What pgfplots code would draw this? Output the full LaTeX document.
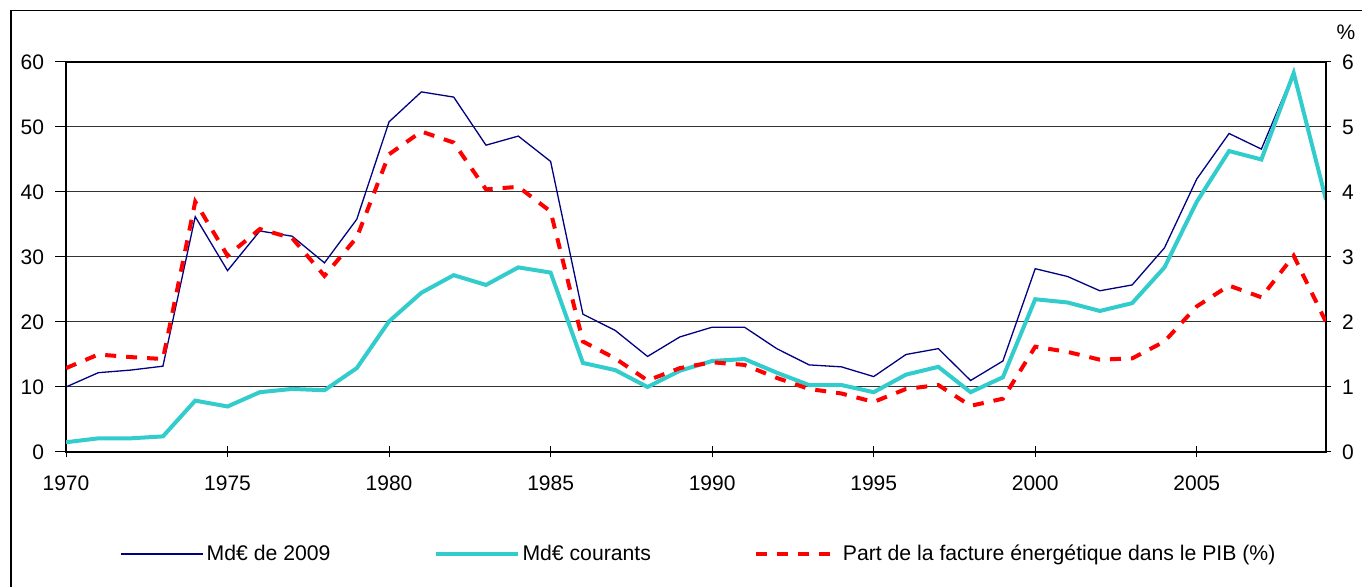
\documentclass[border=0pt]{standalone}
\usepackage{pgfplots}
\pgfplotsset{compat=1.18}
\usepackage{pgfplotstable}
\usepackage{fontspec}
\setmainfont{Liberation Sans}
\definecolor{navyb}{RGB}{0,0,128}
\definecolor{turq}{RGB}{51,204,204}
\pgfplotstableread{
year reel courant part
1970 10.0 1.5 1.29
1971 12.2 2.1 1.50
1972 12.6 2.1 1.46
1973 13.2 2.4 1.43
1974 36.2 7.9 3.85
1975 27.9 7.0 3.02
1976 34.0 9.2 3.43
1977 33.2 9.7 3.29
1978 29.1 9.5 2.71
1979 35.8 12.9 3.30
1980 50.8 20.1 4.58
1981 55.4 24.5 4.93
1982 54.6 27.2 4.76
1983 47.2 25.7 4.04
1984 48.6 28.4 4.08
1985 44.7 27.6 3.70
1986 21.2 13.7 1.70
1987 18.7 12.6 1.44
1988 14.7 10.0 1.10
1989 17.7 12.5 1.29
1990 19.2 14.0 1.38
1991 19.2 14.3 1.34
1992 15.9 12.2 1.14
1993 13.4 10.3 0.97
1994 13.1 10.3 0.90
1995 11.6 9.2 0.77
1996 15.0 11.9 0.97
1997 15.9 13.1 1.03
1998 11.0 9.2 0.71
1999 14.0 11.5 0.82
2000 28.2 23.5 1.62
2001 27.0 23.0 1.54
2002 24.8 21.7 1.42
2003 25.7 22.9 1.44
2004 31.4 28.4 1.70
2005 42.0 38.5 2.24
2006 49.0 46.3 2.56
2007 46.6 45.0 2.38
2008 58.4 58.3 3.02
2009 38.8 38.8 2.00
}\data
\begin{document}
\begin{tikzpicture}[font=\fontsize{10.5}{12.6}\selectfont]
\useasboundingbox (0,0) rectangle (681pt,293.5pt);
\draw[line width=0.65pt] (5.5pt,-1pt) -- (5.5pt,288.25pt) -- (682pt,288.25pt);
\begin{axis}[
  at={(33pt,67.5pt)}, anchor=south west,
  width=630pt, height=195pt, scale only axis,
  xmin=1970, xmax=2009, ymin=0, ymax=60,
  xtick={1970,1975,...,2005}, ytick={0,10,...,60},
  tick pos=left, tick align=outside,
  major tick length=5.5pt,
  every x tick/.append style={yshift=2.75pt},
  /pgf/number format/assume math mode=true,
  xticklabel style={/pgf/number format/1000 sep={}, yshift=-3pt},
  yticklabel style={xshift=-2pt},
  tick label style={font=\fontsize{10.5}{12.6}\selectfont},
  ymajorgrids, major grid style={black!80, line width=0.5pt},
  axis line style={black, line width=0.55pt},
  tick style={black, line width=0.5pt},
  legend columns=3,
  legend style={at={(axis description cs:0.0429,-0.2615)}, anchor=west, draw=none, fill=none, inner sep=0pt,
    font=\fontsize{10.6}{12.6}\selectfont,
    nodes={inner sep=1.5pt},
    /tikz/every even column/.append style={column sep=50pt}},
  legend cell align=left,
  legend image code/.code={\draw[#1] (0pt,0pt) -- (41pt,0pt);},
]
\addplot[navyb, line width=0.65pt] table[x=year, y=reel] {\data};
\addlegendentry{Md€ de 2009}
\addplot[turq, line width=2pt] table[x=year, y=courant] {\data};
\addlegendentry{Md€ courants}
\addlegendimage{red, line width=2pt, dash pattern=on 5.5pt off 5pt}
\addlegendentry{Part de la facture énergétique dans le PIB (\%)}
\end{axis}
\begin{axis}[
  at={(33pt,67.5pt)}, anchor=south west,
  width=630pt, height=195pt, scale only axis,
  xmin=1970, xmax=2009, ymin=0, ymax=6,
  axis x line=none, axis y line*=right,
  ytick={0,1,...,6},
  tick align=outside, major tick length=2.5pt,
  /pgf/number format/assume math mode=true,
  yticklabel style={xshift=2pt},
  tick label style={font=\fontsize{10.5}{12.6}\selectfont},
  axis line style={black, line width=0.55pt},
  tick style={black, line width=0.5pt},
  ylabel={\%},
  every axis y label/.style={at={(axis description cs:1,1)}, anchor=center, xshift=10pt, yshift=15pt},
]
\addplot[red, line width=2pt, dash pattern=on 5.5pt off 5pt] table[x=year, y=part] {\data};
\end{axis}
\end{tikzpicture}
\end{document}
